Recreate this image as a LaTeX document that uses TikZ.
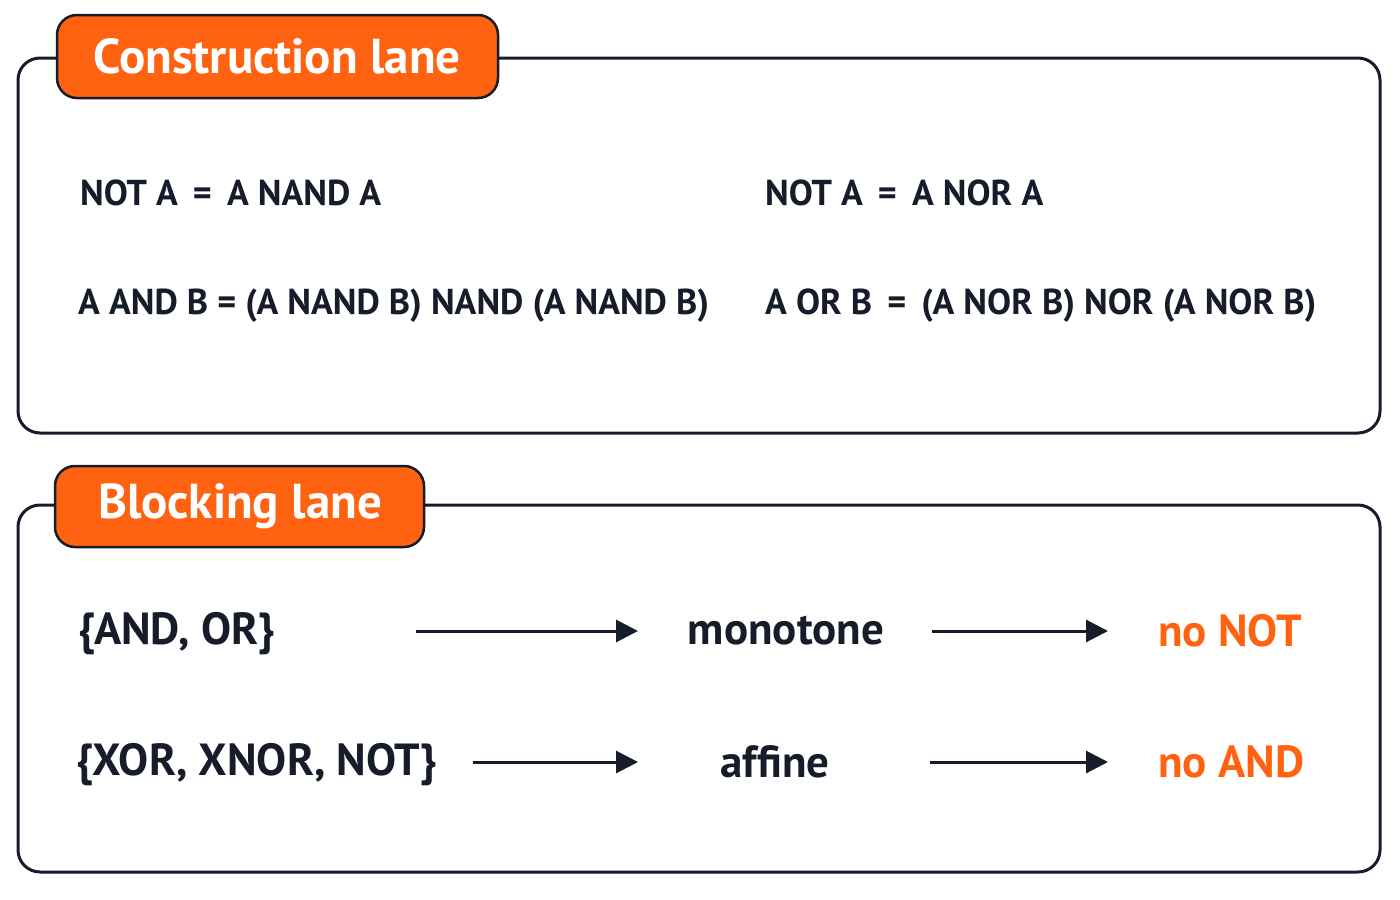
\documentclass[tikz,border=0pt]{standalone}
\usepackage{fontspec}
\setmainfont{PT Sans}
\usetikzlibrary{arrows.meta,positioning}
\definecolor{ink}{HTML}{161C2A}
\definecolor{tabor}{HTML}{FF6210}
\tikzset{
  lane/.style={draw=ink,line width=3bp,rounded corners=22bp},
  tab/.style={draw=ink,line width=2.5bp,fill=tabor,rounded corners=20bp},
  tabtext/.style={text=white,font=\fontsize{49bp}{52bp}\selectfont\bfseries},
  eqn/.style={anchor=west,text=ink,inner sep=0pt,font=\fontsize{36bp}{40bp}\selectfont\bfseries},
  item/.style={anchor=west,text=ink,inner sep=0pt,font=\fontsize{45bp}{50bp}\selectfont\bfseries},
  flow/.style={-{Triangle[length=22bp,width=22bp]},line width=3bp,draw=ink}
}
\begin{document}
\begin{tikzpicture}
\useasboundingbox (0bp,0bp) rectangle (1400bp,-900bp);

% construction lane
\draw[lane] (18bp,-58bp) rectangle (1380bp,-433bp);
\draw[tab] (57bp,-15bp) rectangle (498bp,-98bp);
\node[tabtext] (ctab) at (277bp,-56bp) {Construction lane};
\node[eqn] (nand1) at (80bp,-193bp) {NOT A \,=\, A NAND A};
\node[eqn] (nor1) at (765bp,-193bp) {NOT A \,=\, A NOR A};
\node[eqn] (nand2) at (78bp,-306bp) {A AND B = (A NAND B) NAND (A NAND B)};
\node[eqn] (nor2) at (765bp,-306bp) {A OR B \,=\, (A NOR B) NOR (A NOR B)};

% blocking lane
\draw[lane] (18bp,-505bp) rectangle (1380bp,-872bp);
\draw[tab] (55bp,-466bp) rectangle (424bp,-547bp);
\node[tabtext] (btab) at (240bp,-506bp) {Blocking lane};

\node[item] (andor) at (78bp,-634bp) {\{AND, OR\}};
\node[item,anchor=center] (mono) at (786bp,-631bp) {monotone};
\node[item,text=tabor] (nonot) at (1158bp,-631bp) {no NOT};
\node[item] (xor) at (76bp,-765bp) {\{XOR, XNOR, NOT\}};
\node[item,anchor=center] (aff) at (775bp,-762bp) {affine};
\node[item,text=tabor] (noand) at (1158bp,-762bp) {no AND};

\coordinate (a1) at (416bp,-631bp);
\coordinate (a2) at (638bp,-631bp);
\coordinate (a3) at (932bp,-631bp);
\coordinate (a4) at (1108bp,-631bp);
\coordinate (b1) at (473bp,-762bp);
\coordinate (b2) at (638bp,-762bp);
\coordinate (b3) at (930bp,-762bp);
\coordinate (b4) at (1108bp,-762bp);
\draw[flow] (a1) -- (a2);
\draw[flow] (a3) -- (a4);
\draw[flow] (b1) -- (b2);
\draw[flow] (b3) -- (b4);
\end{tikzpicture}
\end{document}
